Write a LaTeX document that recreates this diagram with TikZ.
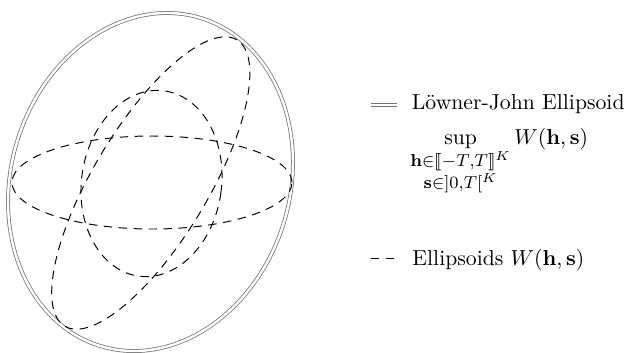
\documentclass[tikz,border=0pt]{standalone}
\usepackage{amsmath,amssymb,stmaryrd}
\newcommand{\subsz}[1]{\mbox{\fontsize{8}{9}\selectfont$#1$}}
\begin{document}
\begin{tikzpicture}[x=0.461pt,y=0.461pt,
  dashedell/.style={draw=black, line width=0.45pt, dash pattern=on 3.9pt off 3pt},
  ljell/.style={draw=black!55, double=white, double distance=1.1pt, line width=0.35pt},
  lbl/.style={anchor=base west, inner sep=0pt}]
\useasboundingbox (0,0) rectangle (635,352);
% Loewner-John ellipse
\draw[ljell, rotate around={-17:(150.5,170)}] (150.5,170) ellipse (139.4 and 171.5);
% dashed ellipsoids
\draw[dashedell] (152,169.5) ellipse (140 and 46.5);
\draw[dashedell, rotate around={59:(150.8,169)}] (150.8,169) ellipse (167 and 57.4);
\draw[dashedell, rotate around={-8:(151.5,168.5)}] (151.5,168.5) ellipse (70 and 93.5);
% legend
\coordinate (l1a) at (371,247);
\coordinate (l1b) at (397,247);
\draw[ljell] (l1a) -- (l1b);
\node[lbl] (t1) at (411.5,242.5) {Löwner-John Ellipsoid};
\node[lbl] (t2) at (410,208) {$\displaystyle\sup_{\substack{\subsz{\mathbf{h}{\in}\llbracket -T{,}T\rrbracket^K}\\ \subsz{\mathbf{s}{\in}]0{,}T[^K}}} W(\mathbf{h},\mathbf{s})$};
\coordinate (l2a) at (371,94);
\coordinate (l2b) at (397,94);
\draw[dashedell] (l2a) -- (l2b);
\node[lbl] (t3) at (412,87) {Ellipsoids $W(\mathbf{h},\mathbf{s})$};
\end{tikzpicture}
\end{document}
